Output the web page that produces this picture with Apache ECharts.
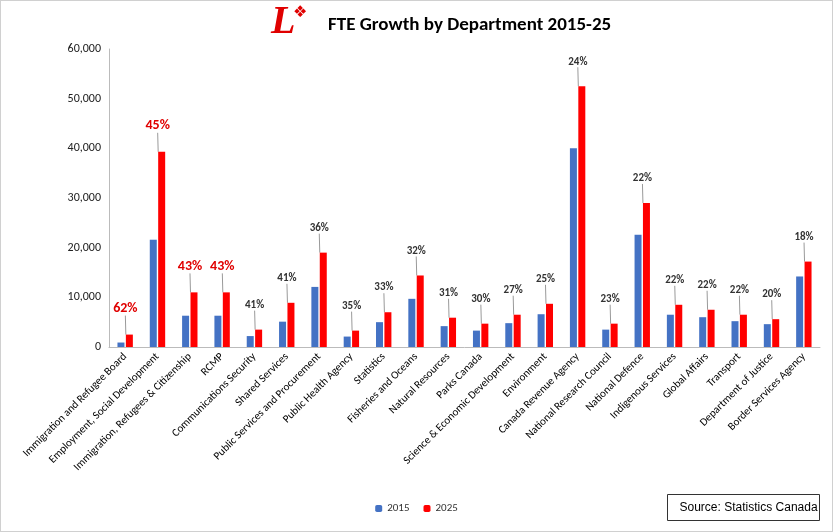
<!DOCTYPE html>
<html><head><meta charset="utf-8">
<script src="https://cdn.jsdelivr.net/npm/echarts@6/dist/echarts.min.js"></script>
<style>html,body{margin:0;padding:0;background:#fff}#main{width:831px;height:530px;border:1px solid #d0d0d0}</style>
</head><body><div id="main"></div>
<script>
var categories = ['Immigration and Refugee Board','Employment, Social Development','Immigration, Refugees & Citizenship','RCMP','Communications Security','Shared Services','Public Services and Procurement','Public Health Agency','Statistics','Fisheries and Oceans','Natural Resources','Parks Canada','Science & Economic Development','Environment','Canada Revenue Agency','National Research Council','National Defence','Indigenous Services','Global Affairs','Transport','Department of Justice','Border Services Agency'];
var fte2015 = [900,21600,6300,6300,2200,5100,12100,2100,5000,9700,4200,3300,4800,6600,40000,3500,22600,6500,6000,5200,4600,14200];
var fte2025 = [2500,39300,11000,11000,3500,8900,19000,3300,7000,14400,5900,4700,6500,8700,52500,4700,29000,8500,7500,6500,5600,17200];
var growth = ['62%','45%','43%','43%','41%','41%','36%','35%','33%','32%','31%','30%','27%','25%','24%','23%','22%','22%','22%','22%','20%','18%'];

var chart = echarts.init(document.getElementById('main'));
chart.setOption({
  textStyle:{fontFamily:'Calibri, Liberation Sans, Arial'},
  title:{text:'FTE Growth by Department 2015-25',left:322,top:10,textStyle:{fontSize:19,fontWeight:'bold',color:'#000'}},
  graphic:[
    {type:'text',left:270,top:2,style:{text:'L',font:'bold italic 40px Liberation Serif',fill:'#e00000'}},
    {type:'text',left:292,top:4,style:{text:'\u2756',font:'16px DejaVu Sans',fill:'#e00000'}},
    {type:'group',right:12,bottom:10,children:[
      {type:'rect',shape:{x:0,y:0,width:152,height:26},style:{fill:'#fff',stroke:'#333',lineWidth:1}},
      {type:'text',x:12,y:7,style:{text:'Source: Statistics Canada',font:'12px Liberation Sans',fill:'#000'}}
    ]}
  ],
  legend:{bottom:12,left:'center',itemWidth:7,itemHeight:7,itemGap:14,textStyle:{fontSize:11,color:'#333'},data:['2015','2025']},
  grid:{left:108,right:12,top:48,bottom:184},
  xAxis:{type:'category',data:categories,axisTick:{show:false},axisLine:{lineStyle:{color:'#bbb'}},
    axisLabel:{interval:0,rotate:45,fontSize:11,color:'#000',margin:8}},
  yAxis:{type:'value',min:0,max:60000,interval:10000,axisLabel:{fontSize:12,color:'#222',formatter:function(v){return v.toLocaleString('en-US');}},
    splitLine:{show:false},axisLine:{show:true,lineStyle:{color:'#bbb'}}},
  series:[
    {name:'2015',type:'bar',data:fte2015,barWidth:7,barGap:'20%',itemStyle:{color:'#4472c4'}},
    {name:'2025',type:'bar',data:fte2025,barWidth:7,itemStyle:{color:'#ff0000'},
      label:{show:true,position:'top',formatter:function(p){return growth[p.dataIndex];},
        fontWeight:'bold',fontSize:11,color:'#333'},
      labelLayout:{dy:-14,dx:-4},
      labelLine:{show:true,lineStyle:{color:'#999',width:1}},
      data:fte2025.map(function(v,i){return i<4?{value:v,label:{fontSize:14,color:'#e00000'}}:v;})
    }
  ]
});
</script></body></html>
